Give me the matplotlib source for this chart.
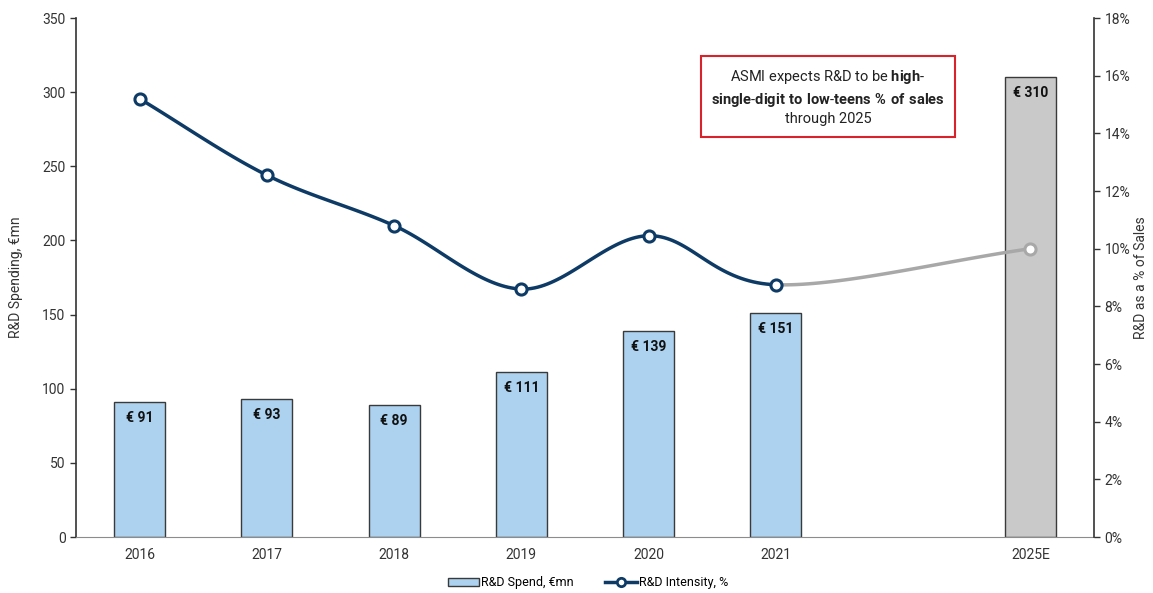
import numpy as np
import matplotlib
matplotlib.use("Agg")
import matplotlib.pyplot as plt
from matplotlib.lines import Line2D
from matplotlib.patches import Patch

plt.rcParams['font.family'] = ['Roboto', 'DejaVu Sans']
plt.rcParams['mathtext.fontset'] = 'custom'
plt.rcParams['mathtext.rm'] = 'Roboto'
plt.rcParams['mathtext.bf'] = 'Roboto:bold'

years = ["2016", "2017", "2018", "2019", "2020", "2021", "2025E"]
spend = [91, 93, 89, 111, 139, 151, 310]
intensity = [15.2, 12.55, 10.8, 8.6, 10.45, 8.75, 10.0]
positions = [0, 1, 2, 3, 4, 5, 7]


def catmull_rom(xs, ys, n=40):
    """Smoothed curve through the points; returns one segment per gap."""
    xs = np.asarray(xs, float)
    ys = np.asarray(ys, float)
    px = np.concatenate([[2 * xs[0] - xs[1]], xs, [2 * xs[-1] - xs[-2]]])
    py = np.concatenate([[2 * ys[0] - ys[1]], ys, [2 * ys[-1] - ys[-2]]])
    segs = []
    t = np.linspace(0, 1, n)
    for i in range(1, len(px) - 2):
        pair = []
        for src in (px, py):
            p0, p1, p2, p3 = src[i - 1], src[i], src[i + 1], src[i + 2]
            pair.append(0.5 * ((2 * p1) + (-p0 + p2) * t
                               + (2 * p0 - 5 * p1 + 4 * p2 - p3) * t ** 2
                               + (-p0 + 3 * p1 - 3 * p2 + p3) * t ** 3))
        segs.append(pair)
    return segs


navy = "#0d3b66"
bar_blue = "#acd2f0"
bar_grey = "#c9c9c9"
line_grey = "#a8a8a8"
text_col = "#333333"

fig = plt.figure(figsize=(11.53, 5.93), dpi=100)
ax = fig.add_axes([0.0659, 0.0944, 0.8829, 0.8752])
ax2 = ax.twinx()

colors = [bar_blue] * 6 + [bar_grey]
ax.bar(positions, spend, width=0.4, color=colors, edgecolor="#3a3a3a",
       linewidth=1.0, zorder=2)
for p, v in zip(positions, spend):
    ax.text(p, v - 6, f"€ {v}", ha="center", va="top", fontsize=10,
            fontweight="bold", color="#111111", zorder=3)

ax.set_xlim(-0.5, 7.5)
ax.set_ylim(0, 350)
ax.set_yticks(range(0, 351, 50))
ax.set_xticks(positions)
ax.set_xticklabels(years)
ax.set_ylabel("R&D Spending, €mn", fontsize=10, color=text_col, labelpad=14)

ax2.set_ylim(0, 18)
ax2.set_yticks(range(0, 19, 2))
ax2.set_yticklabels([f"{v}%" for v in range(0, 19, 2)])
ax2.set_ylabel("R&D as a % of Sales", fontsize=10, color=text_col, labelpad=3)

# actual years in navy, forecast leg in grey
segs = catmull_rom(positions, intensity)
for i, (sx, sy) in enumerate(segs):
    col = navy if i < 5 else line_grey
    ax2.plot(sx, sy, color=col, linewidth=2.5, zorder=4, solid_capstyle="round")
ax2.plot(positions[:6], intensity[:6], "o", markersize=8, markerfacecolor="white",
         markeredgecolor=navy, markeredgewidth=2.2, zorder=5)
ax2.plot(positions[6:], intensity[6:], "o", markersize=8, markerfacecolor="white",
         markeredgecolor=line_grey, markeredgewidth=2.2, zorder=5)

for a in (ax, ax2):
    a.spines["top"].set_visible(False)
    a.tick_params(axis="y", labelsize=10, labelcolor=text_col, length=4,
                  width=1, color="#333333")
ax.spines["left"].set_color("#333333")
ax.spines["left"].set_linewidth(1.2)
ax2.spines["right"].set_color("#333333")
ax2.spines["right"].set_linewidth(1.2)
ax.spines["right"].set_visible(False)
ax2.spines["left"].set_visible(False)
ax.spines["bottom"].set_color("#8c8c8c")
ax2.spines["bottom"].set_visible(False)
ax.tick_params(axis="x", length=0, labelsize=10, labelcolor=text_col, pad=8)

# annotation box
fig.text(0.718, 0.836,
         "ASMI expects R&D to be $\\mathbf{high}$-\n"
         "$\\mathbf{single}$-$\\mathbf{digit\\ to\\ low}$-$\\mathbf{teens\\ \\%\\ of\\ sales}$\n"
         "through 2025",
         ha="center", va="center", fontsize=10.5, color="#222222", linespacing=1.35,
         bbox=dict(boxstyle="square,pad=0.7", facecolor="white",
                   edgecolor="#d9232a", linewidth=1.5))

handles = [Patch(facecolor=bar_blue, edgecolor="#3a3a3a", label="R&D Spend, €mn"),
           Line2D([0], [0], color=navy, linewidth=2.5, marker="o", markersize=6,
                  markerfacecolor="white", markeredgecolor=navy, markeredgewidth=2,
                  label="R&D Intensity, %")]
fig.legend(handles=handles, loc="center", bbox_to_anchor=(0.51, 0.017), ncol=2,
           frameon=False, fontsize=9, handlelength=2.5, handletextpad=0.2,
           columnspacing=2.5)

fig.savefig("out.png", dpi=100, facecolor="white")
